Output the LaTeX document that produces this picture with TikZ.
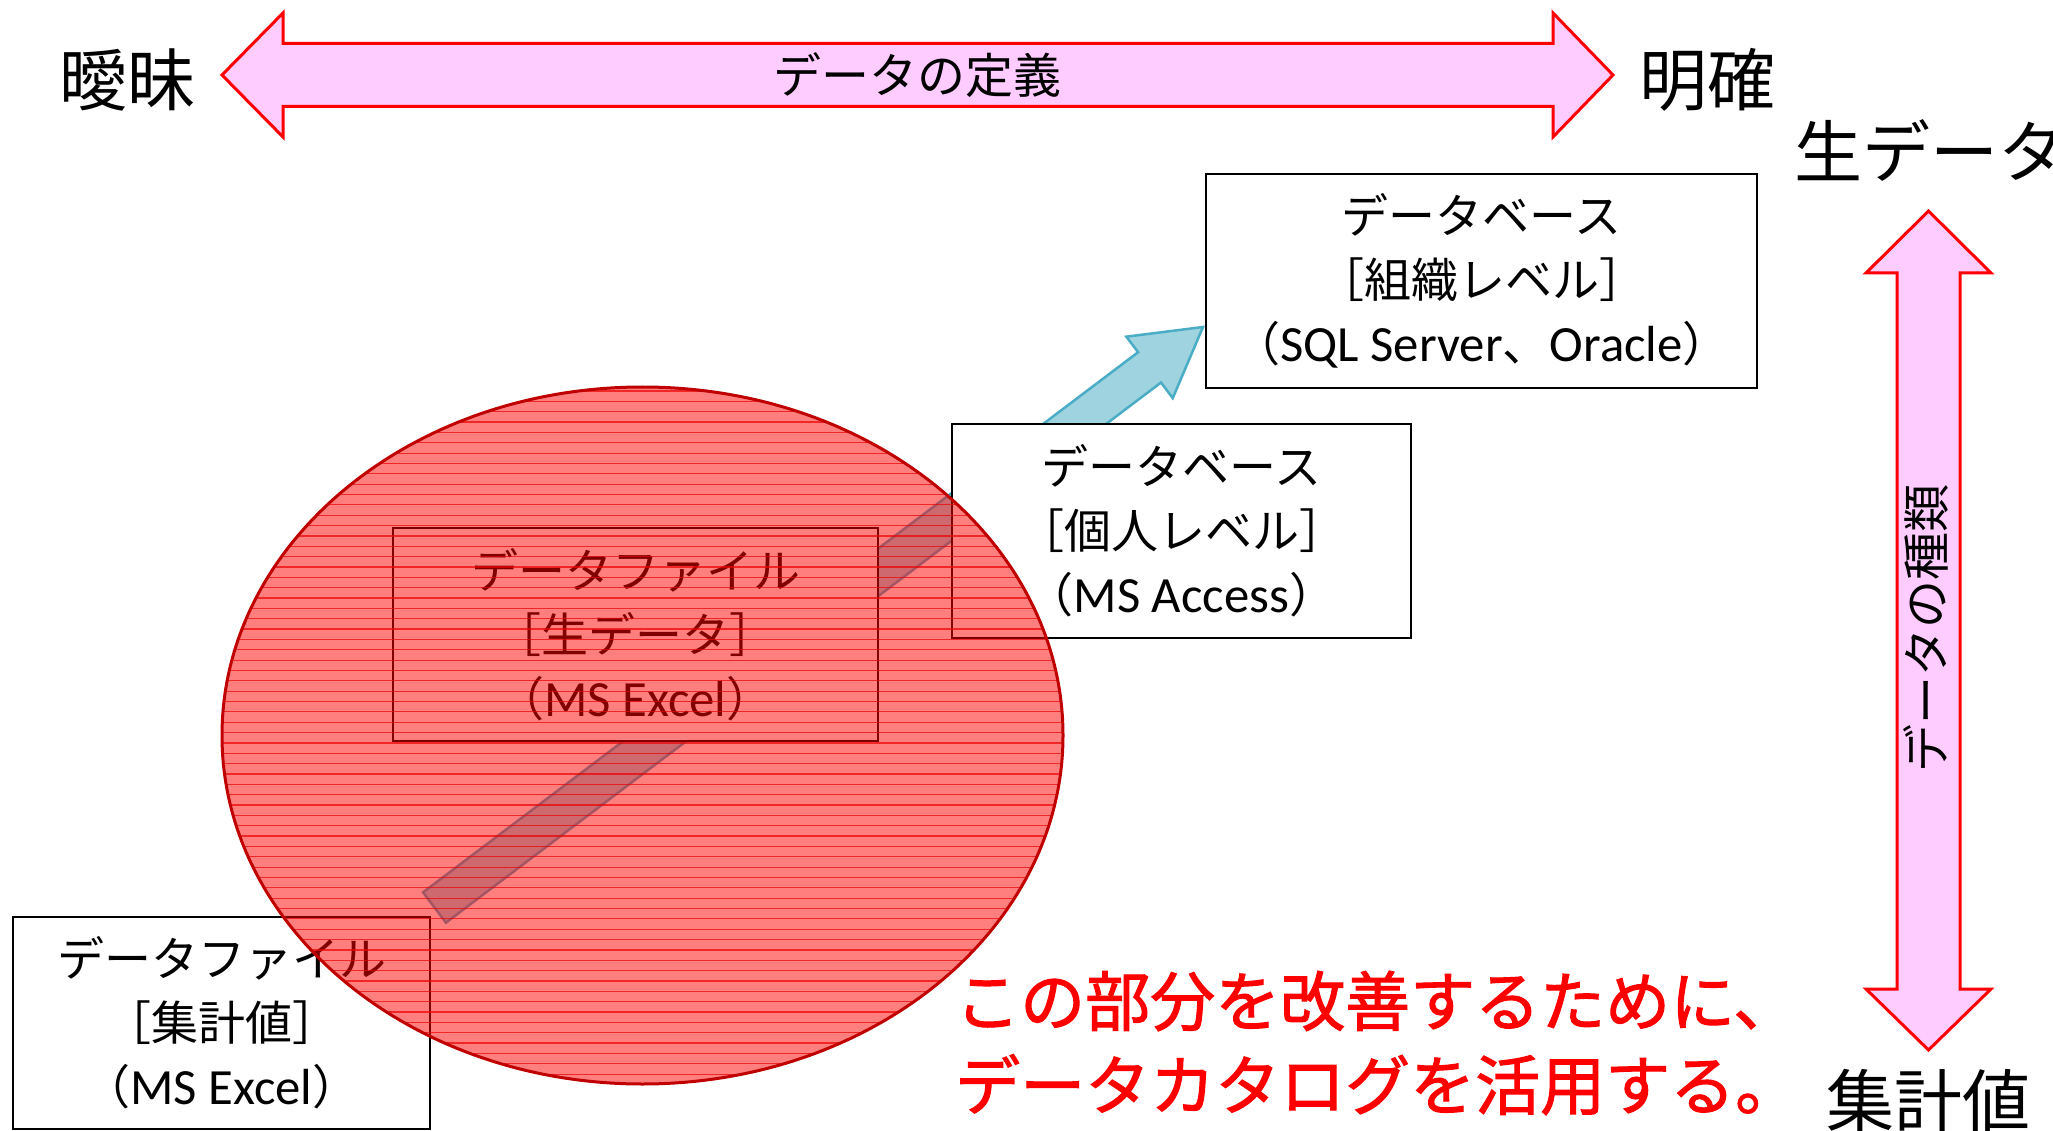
\documentclass[tikz,border=0pt]{standalone}
\usepackage{fontspec}
\setmainfont{Noto Sans CJK JP}
\newfontfamily\lat[Scale=1.08]{Carlito}
\newfontfamily\notefont[AutoFakeBold=1.6]{Noto Sans CJK JP}
\usetikzlibrary{calc,backgrounds}
\definecolor{arrowpink}{HTML}{FFCCFF}
\definecolor{flowblue}{HTML}{9ED3DF}
\definecolor{flowedge}{HTML}{4BACC6}
\definecolor{rimred}{HTML}{C00000}
\begin{document}
\begin{tikzpicture}[x=1pt,y=-1pt,
  axisarrow/.style={fill=arrowpink, draw=red, line width=3pt, line join=miter},
  flowarrow/.style={fill=flowblue, draw=flowedge, line width=2.5pt, line join=miter},
  infobox/.style={draw=black, line width=2pt, fill=white, inner sep=0pt, align=center,
                  font=\fontsize{47}{64}\selectfont},
  endlabel/.style={font=\fontsize{68}{80}\selectfont, inner sep=0pt},
  axislabel/.style={font=\fontsize{48}{56}\selectfont, inner sep=0pt},
  hatchline/.style={draw=red!92!black, line width=1.2pt, opacity=0.7},
  notetext/.style={font=\fontsize{65}{84}\notefont\bfseries, text=red, align=left,
                   inner sep=0pt},
]
\useasboundingbox (0,0) rectangle (2053,1131);

% horizontal axis: definition of the data
\draw[axisarrow] (222,75) -- (283,13) -- (283,43.5) -- (1553,43.5) -- (1553,13)
  -- (1613,75) -- (1553,137) -- (1553,106.5) -- (283,106.5) -- (283,137) -- cycle;
\node[axislabel] (defn) at (917,75) {データの定義};
\node[endlabel] (vague) at (127,80) {曖昧};
\node[endlabel] (clear) at (1707,80) {明確};

% vertical axis: kind of the data
\draw[axisarrow] (1928.5,211) -- (1991,273) -- (1960,273) -- (1960,989) -- (1991,989)
  -- (1928.5,1050) -- (1866,989) -- (1897,989) -- (1897,273) -- (1866,273) -- cycle;
\node[axislabel, rotate=90] (kind) at (1926,628) {データの種類};
\node[endlabel, anchor=west] (raw) at (1794,150) {生データ};
\node[endlabel] (agg) at (1928,1101) {集計値};

% storage boxes
\node[infobox, minimum width=551pt, minimum height=214pt] (db1) at (1481.5,281)
  {データベース\\［組織レベル］\\（{\lat SQL Server}、{\lat Oracle}）};
\node[infobox, minimum width=459pt, minimum height=214pt] (db2) at (1181.5,531)
  {データベース\\［個人レベル］\\（{\lat MS Access}）};
\node[infobox, minimum width=485pt, minimum height=213pt] (file1) at (635.5,634.5)
  {データファイル\\［生データ］\\（{\lat MS Excel}）};
\node[infobox, minimum width=417pt, minimum height=212pt] (file2) at (221.5,1023)
  {データファイル\\［集計値］\\（{\lat MS Excel}）};

% evolution arrow running behind the boxes
\begin{pgfonlayer}{background}
\coordinate (flowtail) at (434.5,907.5);
\coordinate (flowtip) at ($(db1.west |- 0,327)+(-2,0)$);
\coordinate (flowneck) at ($(flowtip)!67pt!(flowtail)$);
\draw[flowarrow] ($(flowtail)!19pt!90:(flowtip)$) -- ($(flowneck)!19pt!90:(flowtip)$)
  -- ($(flowneck)!38.5pt!90:(flowtip)$) -- (flowtip)
  -- ($(flowneck)!38.5pt!-90:(flowtip)$) -- ($(flowneck)!19pt!-90:(flowtip)$)
  -- ($(flowtail)!19pt!-90:(flowtip)$) -- cycle;
\end{pgfonlayer}

% highlighted region
\begin{scope}
  \clip (642.5,735.5) ellipse [x radius=420.5pt, y radius=348.5pt];
  \fill[red, fill opacity=0.5] (200,380) rectangle (1080,1090);
  \foreach \k in {0,...,67}
    \draw[hatchline] (200,{391+10.35*\k}) -- (1080,{391+10.35*\k});
\end{scope}
\draw[rimred, line width=3pt] (642.5,735.5) ellipse [x radius=420.5pt, y radius=348.5pt];

% note
\node[notetext, anchor=west] (note) at (955,1043)
  {この部分を改善するために、\\データカタログを活用する。};
\end{tikzpicture}
\end{document}
